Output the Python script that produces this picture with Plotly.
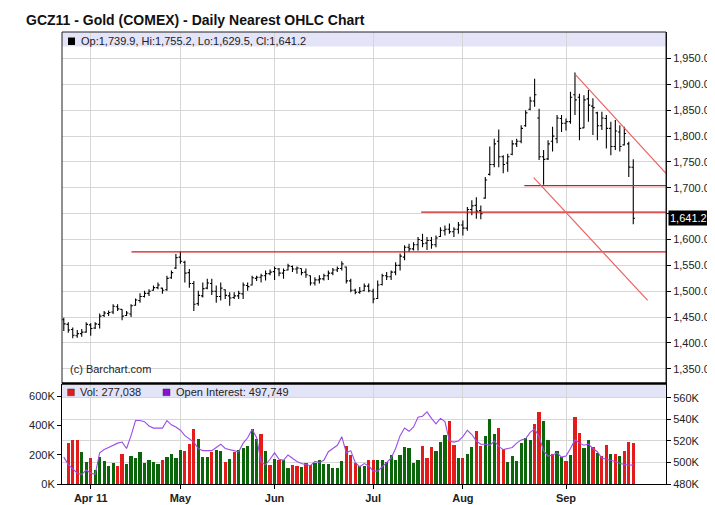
import pandas as pd
import plotly.graph_objects as go

# trading days shown (COMEX closed on these weekdays)
holidays = ['2011-04-22', '2011-05-30', '2011-07-04', '2011-09-05']
dates = [d.strftime('%Y-%m-%d') for d in pd.bdate_range('2011-03-24', '2011-09-23')
         if d.strftime('%Y-%m-%d') not in holidays]

month_starts = ['2011-04-01', '2011-05-02', '2011-06-01', '2011-07-01', '2011-08-01', '2011-09-01']
month_labels = ['Apr 11', 'May', 'Jun', 'Jul', 'Aug', 'Sep']

opens = [1445, 1436, 1426, 1414, 1418, 1421, 1435, 1429, 1436, 1453,
         1457, 1460, 1470, 1465, 1453, 1456, 1473, 1482, 1490, 1496,
         1502, 1507, 1506, 1503, 1526, 1545, 1566, 1556, 1536, 1515,
         1476, 1491, 1506, 1515, 1500, 1490, 1503, 1491, 1488, 1491,
         1495, 1511, 1512, 1525, 1527, 1530, 1534, 1538, 1543, 1535,
         1541, 1548, 1543, 1544, 1537, 1530, 1516, 1522, 1524, 1530,
         1535, 1541, 1544, 1547, 1520, 1502, 1498, 1501, 1510, 1500,
         1486, 1513, 1530, 1528, 1537, 1550, 1566, 1585, 1582, 1590,
         1598, 1593, 1598, 1590, 1606, 1617, 1620, 1615, 1620, 1628,
         1622, 1658, 1666, 1656, 1680, 1726, 1745, 1790, 1760, 1748,
         1765, 1785, 1790, 1820, 1852, 1868, 1835, 1760, 1756, 1790,
         1795, 1834, 1825, 1828, 1880, 1875, 1816, 1872, 1858, 1845,
         1820, 1834, 1815, 1780, 1808, 1783, 1785, 1739.9]
highs = [1449, 1440, 1430, 1425, 1427, 1440, 1438, 1440, 1457, 1462,
         1463, 1475, 1475, 1465, 1462, 1475, 1486, 1496, 1501, 1504,
         1511, 1517, 1507, 1530, 1540, 1572, 1577, 1559, 1543, 1520,
         1501, 1517, 1524, 1524, 1511, 1517, 1504, 1498, 1498, 1501,
         1517, 1517, 1530, 1530, 1534, 1540, 1542, 1548, 1545, 1544,
         1553, 1550, 1548, 1544, 1544, 1531, 1527, 1531, 1534, 1540,
         1545, 1548, 1558, 1548, 1524, 1505, 1508, 1515, 1515, 1505,
         1521, 1534, 1537, 1540, 1556, 1573, 1589, 1592, 1595, 1605,
         1611, 1605, 1605, 1608, 1624, 1627, 1631, 1624, 1634, 1637,
         1663, 1676, 1682, 1666, 1721, 1780, 1795, 1813, 1763, 1766,
         1792, 1795, 1821, 1850, 1876, 1911, 1853, 1773, 1792, 1818,
         1841, 1841, 1834, 1886, 1923, 1882, 1879, 1889, 1873, 1847,
         1847, 1841, 1828, 1831, 1821, 1818, 1789, 1755.2]
lows = [1423, 1420, 1409, 1410, 1412, 1420, 1414, 1427, 1428, 1450,
        1452, 1456, 1462, 1444, 1452, 1450, 1472, 1478, 1488, 1491,
        1501, 1504, 1495, 1501, 1524, 1543, 1553, 1517, 1507, 1462,
        1472, 1488, 1504, 1493, 1478, 1482, 1485, 1472, 1485, 1485,
        1485, 1501, 1511, 1520, 1517, 1521, 1531, 1522, 1529, 1524,
        1540, 1537, 1534, 1531, 1526, 1511, 1511, 1515, 1521, 1522,
        1531, 1537, 1540, 1515, 1498, 1494, 1495, 1500, 1498, 1477,
        1485, 1511, 1522, 1522, 1531, 1540, 1560, 1576, 1579, 1579,
        1585, 1580, 1582, 1585, 1605, 1608, 1611, 1605, 1611, 1608,
        1617, 1647, 1640, 1639, 1679, 1724, 1740, 1740, 1728, 1731,
        1763, 1779, 1786, 1818, 1850, 1857, 1754, 1706, 1754, 1770,
        1786, 1808, 1811, 1824, 1841, 1792, 1815, 1828, 1802, 1792,
        1812, 1776, 1763, 1773, 1770, 1782, 1721, 1629.5]
closes = [1437, 1425, 1415, 1418, 1421, 1436, 1428, 1437, 1452, 1458,
          1459, 1471, 1466, 1452, 1458, 1472, 1483, 1490, 1496, 1500,
          1507, 1512, 1502, 1525, 1536, 1565, 1558, 1535, 1515, 1475,
          1492, 1505, 1516, 1500, 1490, 1506, 1492, 1487, 1491, 1496,
          1512, 1509, 1526, 1527, 1530, 1534, 1537, 1544, 1535, 1540,
          1549, 1543, 1545, 1536, 1532, 1516, 1522, 1524, 1530, 1535,
          1541, 1544, 1553, 1520, 1502, 1498, 1500, 1510, 1501, 1485,
          1512, 1530, 1528, 1537, 1550, 1568, 1585, 1582, 1590, 1600,
          1592, 1598, 1590, 1603, 1618, 1620, 1615, 1620, 1628, 1622,
          1658, 1665, 1655, 1650, 1715, 1745, 1785, 1760, 1745, 1760,
          1785, 1790, 1815, 1845, 1868, 1880, 1760, 1755, 1785, 1800,
          1835, 1825, 1828, 1875, 1870, 1815, 1870, 1860, 1855, 1820,
          1835, 1815, 1780, 1810, 1780, 1805, 1740, 1641.2]

# volume in thousands, +1 = green bar, -1 = red bar
volume_k = [None, 280, 300, 295, 218, 150, 177, 95, 184, 155,
            120, 140, 118, 205, 135, 190, 177, 218, 142, 163,
            149, 135, 163, 184, 205, 177, 232, 225, 267, 372,
            302, 184, 184, 218, 232, 225, 149, 170, 218, 232,
            240, 258, 372, 305, 335, 225, 128, 170, 163, 163,
            107, 128, 121, 114, 142, 128, 142, 163, 135, 135,
            107, 107, 155, 253, 198, 142, 123, 123, 158, 158,
            158, 158, 147, 198, 158, 198, 249, 240, 142, 163,
            256, 177, 249, 219, 286, 333, 428, 260, 177, 177,
            205, 247, 360, 256, 323, 442, 337, 381, 233, 144,
            186, 153, 274, 312, 295, 407, 491, 428, 295, 205,
            223, 181, 151, 198, 456, 344, 244, 295, 249, 207,
            191, 260, 205, 205, 191, 219, 281, 277.038]
vol_dir = [1, -1, -1, -1, 1, 1, -1, 1, 1, 1,
           1, 1, -1, -1, 1, 1, 1, 1, 1, 1,
           1, 1, -1, 1, 1, 1, 1, -1, -1, -1,
           1, 1, 1, -1, 1, 1, -1, 1, -1, 1,
           1, 1, 1, 1, -1, 1, -1, 1, -1, 1,
           1, -1, -1, 1, -1, -1, 1, 1, 1, 1,
           1, 1, 1, -1, -1, -1, 1, 1, -1, -1,
           1, 1, 1, 1, 1, 1, 1, 1, 1, 1,
           -1, -1, -1, 1, 1, 1, -1, -1, 1, -1,
           1, 1, -1, -1, 1, 1, 1, -1, -1, 1,
           1, 1, 1, 1, 1, -1, -1, 1, 1, -1,
           1, 1, -1, 1, -1, -1, 1, 1, -1, 1,
           -1, -1, 1, -1, 1, -1, -1, -1]
open_interest_k = [505, 498, 494, 490, 489, 493, 490, 489, 509, 512,
                   514, 516, 518, 519, 513, 525, 539, 539, 538, 534,
                   532, 532, 532, 539, 535, 533, 530, 525, 522, 519,
                   513, 511, 511, 511, 514, 517, 513, 512, 511, 510,
                   518, 523, 531, 523, 500, 498, 503, 509, 503, 502,
                   507, 504, 501, 499, 498, 497, 501, 500, 502, 510,
                   513, 516, 524, 509, 511, 500, 496, 499, 497, 492,
                   492, 496, 500, 504, 513, 525, 532, 529, 533, 542,
                   543, 547, 541, 536, 541, 538, 520, 519, 520, 524,
                   530, 526, 520, 517, 517, 516, 520, 515, 512, 513,
                   514, 518, 521, 522, 528, 531, 524, 511, 506, 507,
                   509, 505, 506, 513, 521, 518, 516, 517, 513, 510,
                   504, 503, 502, 501, 499, 498, 497.5, 497.749]

# drawn support / resistance lines: (start bar index, price)
levels = [(15.1, 1576), (79.7, 1653), (102.7, 1704.4)]
trendlines = [((114.2, 1918), (134.3, 1728)), ((104.8, 1719.8), (130.2, 1482.2))]

price_ticks = list(range(1350, 2000, 50))
vol_ticks = [0, 200000, 400000, 600000]
oi_ticks = [480000, 500000, 520000, 540000, 560000]

RED, GREEN, PURPLE = '#e41b1b', '#0b650b', '#9b4de6'
BAND = '#e4e4f8'
GRID = '#d6d6d6'
FONT = 'Liberation Sans, Arial, sans-serif'

x_end = 134.3
split = 0.2223

fig = go.Figure()
fig.add_trace(go.Ohlc(x=dates, open=opens, high=highs, low=lows, close=closes,
                      increasing_line_color='black', decreasing_line_color='black',
                      line_width=1.1, tickwidth=0.4, hoverinfo='skip',
                      xaxis='x', yaxis='y', showlegend=False))
fig.add_trace(go.Bar(x=dates, y=[None if v is None else v * 1000 for v in volume_k],
                     marker_color=[GREEN if d > 0 else RED for d in vol_dir],
                     marker_line_width=0, width=0.72,
                     xaxis='x2', yaxis='y2', showlegend=False))
fig.add_trace(go.Scatter(x=dates, y=[v * 1000 for v in open_interest_k], mode='lines',
                         line=dict(color=PURPLE, width=1.1),
                         xaxis='x2', yaxis='y3', showlegend=False))

shapes = []
for x0, p in levels:
    shapes.append(dict(type='line', xref='x', yref='y', x0=x0, x1=x_end, y0=p, y1=p,
                       line=dict(color='#cf1b1b', width=1.3)))
for (x0, y0), (x1, y1) in trendlines:
    shapes.append(dict(type='line', xref='x', yref='y', x0=x0, x1=x1, y0=y0, y1=y1,
                       line=dict(color='#ea6363', width=1.2)))
# header bands, legend squares and panel frames
shapes += [
    dict(type='rect', xref='paper', yref='paper', x0=0, x1=1, y0=0.968, y1=1,
         fillcolor=BAND, line_width=0, layer='below'),
    dict(type='rect', xref='paper', yref='paper', x0=0, x1=1, y0=0.1903, y1=split - 0.002,
         fillcolor=BAND, line_width=0, layer='below'),
    dict(type='rect', xref='paper', yref='paper', x0=0.0099, x1=0.0215, y0=0.9712, y1=0.9878,
         fillcolor='black', line_width=0),
    dict(type='rect', xref='paper', yref='paper', x0=0.0094, x1=0.0204, y0=0.1954, y1=0.2102,
         fillcolor=RED, line=dict(color='#333', width=0.5)),
    dict(type='rect', xref='paper', yref='paper', x0=0.1672, x1=0.1788, y0=0.1954, y1=0.2102,
         fillcolor='#8a10d8', line=dict(color='#333', width=0.5)),
    dict(type='rect', xref='paper', yref='paper', x0=0, x1=1, y0=split, y1=1,
         line=dict(color='#222', width=1)),
    dict(type='line', xref='paper', yref='paper', x0=0, x1=1, y0=split, y1=split,
         line=dict(color='black', width=2.5)),
]

annotations = [
    dict(text='<b>GCZ11 - Gold (COMEX) - Daily Nearest OHLC Chart</b>', xref='paper', yref='paper',
         x=-0.063, y=1.0265, xanchor='left', yanchor='middle', showarrow=False,
         font=dict(size=14, color='#111')),
    dict(text='Op:1,739.9, Hi:1,755.2, Lo:1,629.5, Cl:1,641.2', xref='paper', yref='paper',
         x=0.028, y=0.980, xanchor='left', yanchor='middle', showarrow=False),
    dict(text='(c) Barchart.com', xref='paper', yref='paper',
         x=0.0099, y=0.2544, xanchor='left', yanchor='middle', showarrow=False),
    dict(text='Vol: 277,038', xref='paper', yref='paper',
         x=0.027, y=0.2029, xanchor='left', yanchor='middle', showarrow=False),
    dict(text='Open Interest: 497,749', xref='paper', yref='paper',
         x=0.186, y=0.2029, xanchor='left', yanchor='middle', showarrow=False),
    dict(text='1,641.2', xref='paper', yref='y', x=1.004, y=closes[-1],
         xanchor='left', yanchor='middle', showarrow=False, bgcolor='black',
         font=dict(color='white', size=11), borderpad=1),
]

# the page body adds an 8px margin, so the figure is 8px smaller on each side
fig.update_layout(
    width=707, height=497, margin=dict(l=54, r=49, t=24, b=21, autoexpand=False),
    paper_bgcolor='white', plot_bgcolor='white',
    font=dict(family=FONT, size=11, color='#222'),
    shapes=shapes, annotations=annotations, bargap=0,
    xaxis=dict(type='category', categoryorder='array', categoryarray=dates,
               range=[-0.4, x_end], tickvals=month_starts, showticklabels=False,
               ticks='', showgrid=True, gridcolor=GRID, showline=False, zeroline=False,
               rangeslider=dict(visible=False), anchor='y', matches='x2', automargin=False),
    yaxis=dict(domain=[split, 1], range=[1321.6, 2001.3], side='right',
               tickvals=price_ticks,
               ticktext=['' if p == 1650 else f'{p:,.1f}' for p in price_ticks],
               ticks='outside', ticklen=4, tickcolor='black', showline=True,
               linecolor='black', showgrid=True, gridcolor=GRID, zeroline=False,
               anchor='x', automargin=False),
    xaxis2=dict(type='category', categoryorder='array', categoryarray=dates,
                range=[-0.4, x_end], tickvals=month_starts,
                ticktext=[f'<b>{m}</b>' for m in month_labels],
                ticks='outside', ticklen=4, tickcolor='black', showline=True,
                linecolor='black', showgrid=True, gridcolor=GRID, zeroline=False,
                anchor='y2', automargin=False),
    yaxis2=dict(domain=[0, split - 0.002], range=[0, 679000], side='left',
                tickvals=vol_ticks, ticktext=[f'{v // 1000}K' for v in vol_ticks],
                ticks='outside', ticklen=4, tickcolor='black', showline=True,
                linecolor='black', showgrid=False, zeroline=False, anchor='x2',
                automargin=False),
    yaxis3=dict(overlaying='y2', range=[480000, 572600], side='right',
                tickvals=oi_ticks, ticktext=[f'{v // 1000}K' for v in oi_ticks],
                ticks='outside', ticklen=4, tickcolor='black', showline=True,
                linecolor='black', showgrid=True, gridcolor=GRID, zeroline=False,
                anchor='x2', automargin=False),
)

fig.write_html('out.html')
